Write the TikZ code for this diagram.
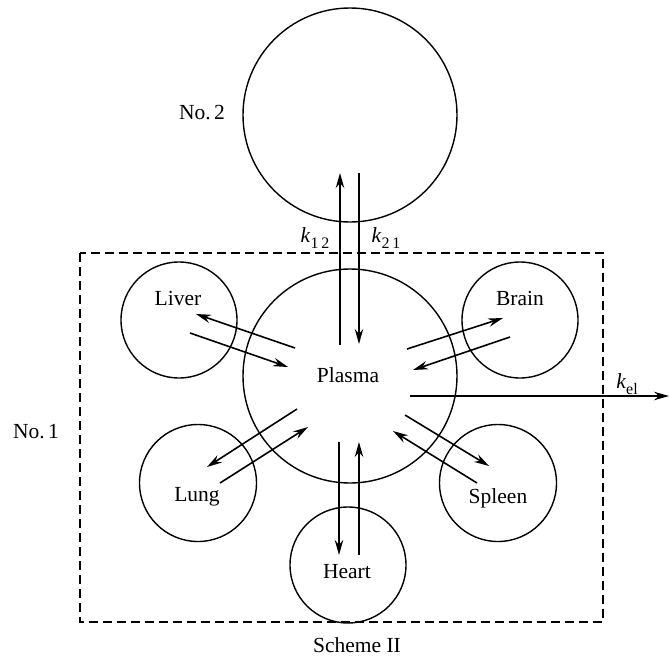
\documentclass[tikz,border=0pt]{standalone}
\usepackage{fontspec}
\setmainfont{Liberation Serif}
\usetikzlibrary{arrows.meta}
\begin{document}
\begin{tikzpicture}[x=1pt,y=-1pt,
  organ/.style={circle,draw,line width=1.4pt,inner sep=0pt},
  lbl/.style={font=\fontsize{21.5}{24}\selectfont,inner sep=0pt},
  flow/.style={line width=1.6pt,-{Stealth[length=15pt,width=8.5pt]}},
  box/.style={dashed,line width=1.4pt,dash pattern=on 9pt off 5pt}]
\useasboundingbox (0,0) rectangle (669,656);
% compartments
\node[organ,minimum size=214pt] (two) at (350,115) {};
\node[organ,minimum size=214pt] (plasma) at (350,376) {};
\node[organ,minimum size=116pt] (liver) at (179,320) {};
\node[organ,minimum size=116pt] (brain) at (520,320) {};
\node[organ,minimum size=117pt] (lung) at (198,483) {};
\node[organ,minimum size=117pt] (spleen) at (498,483) {};
\node[organ,minimum size=116pt] (heart) at (348,565) {};
\draw[box] (80,253) rectangle (603,622);
% labels
\node[lbl] (tplasma) at (348,375) {Plasma};
\node[lbl] (tliver) at (178,298) {Liver};
\node[lbl] (tbrain) at (520,298) {Brain};
\node[lbl] (tlung) at (197,497) {Lung};
\node[lbl] (tspleen) at (498,498) {Spleen};
\node[lbl] (theart) at (347,572) {Heart};
\node[lbl] (tno2) at (202,113) {No.\,2};
\node[lbl] (tno1) at (36,432) {No.\,1};
\node[lbl] (tscheme) at (357,645) {Scheme II};
\node[lbl] (k12) at (315,238) {\textit{k}\raisebox{-0.25em}{\fontsize{16}{16}\selectfont 1\,2}};
\node[lbl] (k21) at (386,238) {\textit{k}\raisebox{-0.25em}{\fontsize{16}{16}\selectfont 2\,1}};
\node[lbl] (kel) at (627,384) {\textit{k}\raisebox{-0.25em}{\fontsize{16}{16}\selectfont el}};
% arrow end points
\coordinate (p2a) at (340,345); \coordinate (t2a) at (340,173);
\coordinate (t2b) at (359,173); \coordinate (p2b) at (359,344);
\coordinate (pla) at (295,348); \coordinate (lia) at (196,314);
\coordinate (lib) at (190,333); \coordinate (plb) at (288,367);
\coordinate (pba) at (407,349); \coordinate (bra) at (503,318);
\coordinate (brb) at (510,337); \coordinate (pbb) at (413,370);
\coordinate (pua) at (297,409); \coordinate (lua) at (207,467);
\coordinate (lub) at (220,483); \coordinate (pub) at (308,427);
\coordinate (psa) at (405,415); \coordinate (spa) at (489,466);
\coordinate (spb) at (477,483); \coordinate (psb) at (393,431);
\coordinate (pha) at (339,442); \coordinate (hea) at (339,555);
\coordinate (heb) at (359,555); \coordinate (phb) at (359,442);
\coordinate (pel) at (410,396); \coordinate (out) at (669,396);
% arrows
\draw[flow] (p2a) -- (t2a);
\draw[flow] (t2b) -- (p2b);
\draw[flow] (pla) -- (lia);
\draw[flow] (lib) -- (plb);
\draw[flow] (pba) -- (bra);
\draw[flow] (brb) -- (pbb);
\draw[flow] (pua) -- (lua);
\draw[flow] (lub) -- (pub);
\draw[flow] (psa) -- (spa);
\draw[flow] (spb) -- (psb);
\draw[flow] (pha) -- (hea);
\draw[flow] (heb) -- (phb);
\draw[flow] (pel) -- (out);
\end{tikzpicture}
\end{document}
